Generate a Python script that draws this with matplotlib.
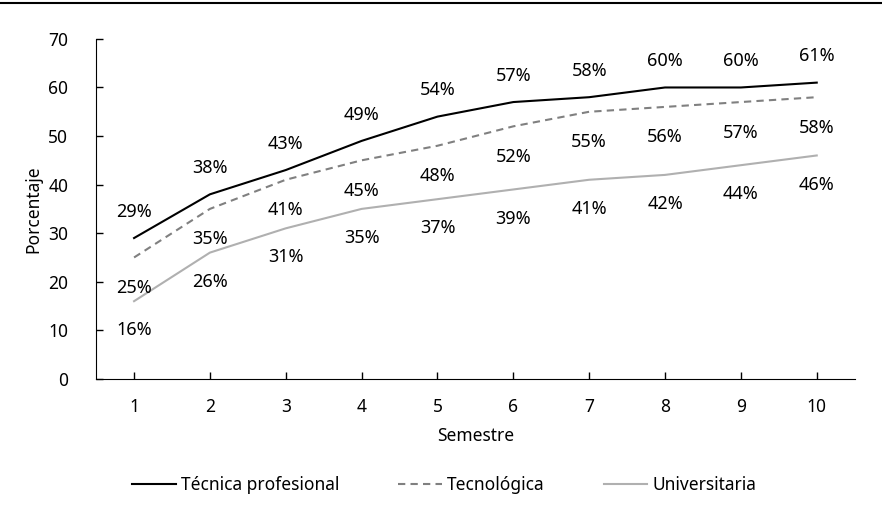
import matplotlib
matplotlib.use('Agg')
import matplotlib.pyplot as plt
import matplotlib.lines

semestres = [1, 2, 3, 4, 5, 6, 7, 8, 9, 10]
tecnica = [29, 38, 43, 49, 54, 57, 58, 60, 60, 61]
tecnologica = [25, 35, 41, 45, 48, 52, 55, 56, 57, 58]
universitaria = [16, 26, 31, 35, 37, 39, 41, 42, 44, 46]
y_ticks = [0, 10, 20, 30, 40, 50, 60, 70]

plt.rcParams['font.family'] = ['Noto Sans', 'DejaVu Sans']
plt.rcParams['font.size'] = 12.5

figure = plt.figure(figsize=(8.82, 5.12), dpi=100)
axes = figure.add_axes([0.109, 0.26, 0.86, 0.664])

series = [
    (tecnica, 'Técnica profesional', dict(c='black', lw=1.5, ls='-'), 19),
    (tecnologica, 'Tecnológica', dict(c='#808080', lw=1.5, ls=(0, (3.5, 2.5))), -22),
    (universitaria, 'Universitaria', dict(c='#b0b0b0', lw=1.5, ls='-'), -21),
]

for values, name, kw, offset in series:
    axes.plot(semestres, values, label=name, **kw)
    for x, v in zip(semestres, values):
        axes.annotate(f'{v}%', (x, v), xytext=(0, offset),
                      textcoords='offset points', ha='center', va='center',
                      fontsize=13)

axes.set_xlim(0.5, 10.5)
axes.set_ylim(0, 70)
axes.set_xticks(semestres)
axes.set_yticks(y_ticks)
axes.tick_params(direction='in', length=5, width=1, pad=14, labelsize=12.5)
axes.tick_params(axis='y', pad=20)
for side in ('top', 'right'):
    axes.spines[side].set_visible(False)
axes.set_xlabel('Semestre', labelpad=8)
axes.set_ylabel('Porcentaje', labelpad=4)

axes.legend(loc='upper center', bbox_to_anchor=(0.459, -0.24), ncol=3,
            frameon=False, handlelength=2.5, handletextpad=0.3,
            columnspacing=3.4)

# Rule across the top of the figure.
figure.add_artist(matplotlib.lines.Line2D(
    [0, 1], [0.995, 0.995], c='black', lw=1.5, transform=figure.transFigure))

figure.savefig('out.png', dpi=100)
